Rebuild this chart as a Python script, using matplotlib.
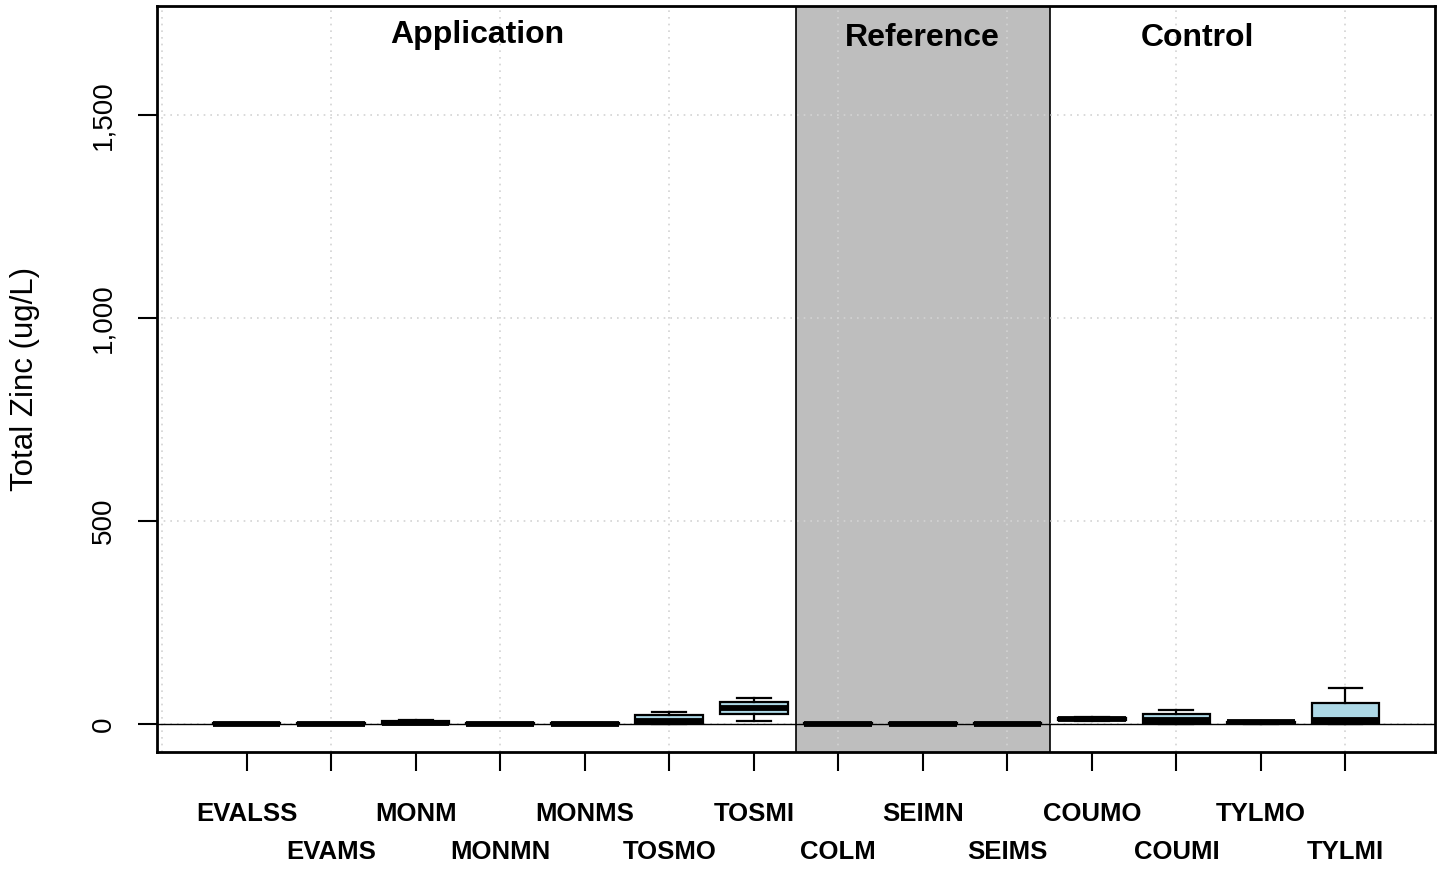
import matplotlib
matplotlib.use("Agg")
import matplotlib.pyplot as plt
from matplotlib.transforms import blended_transform_factory
from matplotlib.ticker import FuncFormatter

plt.rcParams['font.family'] = ['Liberation Sans', 'DejaVu Sans']

# Sampling sites, in plotting order
sites = ['EVALSS', 'EVAMS', 'MONM', 'MONMN', 'MONMS', 'TOSMO', 'TOSMI',
         'COLM', 'SEIMN', 'SEIMS', 'COUMO', 'COUMI', 'TYLMO', 'TYLMI']

# Five-number summaries of total zinc (ug/L) per site
whisker_low = [0, 0, 0, 0, 0, 0, 8, 0, 0, 0, 7, 1, 1, 0]
q1 = [0, 0, 1, 0, 0, 2.5, 24, 0, 0, 0, 9, 3, 2, 3]
median = [1, 1, 3, 1, 1, 8.5, 39, 1, 1, 1, 12, 9, 4, 10]
q3 = [2, 2, 7, 2, 2, 22, 53, 2, 2, 2, 15, 25, 6, 51]
whisker_high = [3, 3, 9, 3, 3, 30, 64, 3, 3, 3, 17, 35, 8, 89]

# Site groups: (label, label x position, label height in axes fraction)
groups = ['Application', 'Reference', 'Control']
group_label_x = [3.73, 9.0, 12.25]
group_label_y = [0.961, 0.9575, 0.9575]
reference_span = (7.5, 10.5)

y_ticks = [0, 500, 1000, 1500]

fig = plt.figure(figsize=(14.46, 8.69), dpi=100)
ax = fig.add_axes([0.1086, 0.1346, 0.8838, 0.8585])

positions = list(range(1, len(sites) + 1))
ax.set_xlim(-0.06, len(sites) + 1.06)
ax.set_ylim(-69, 1768)

# Shaded reference block with its borders
ax.axvspan(*reference_span, color='#BEBEBE', zorder=0, lw=0)
for xv in reference_span:
    ax.axvline(xv, color='black', lw=1.2, zorder=1)

# Dotted grid
for gx in range(0, len(sites) + 1, 2):
    ax.axvline(gx, color='#D3D3D3', lw=1.2, ls=(0, (1, 3)), zorder=1)
for gy in y_ticks:
    ax.axhline(gy, color='#D3D3D3', lw=1.2, ls=(0, (1, 3)), zorder=1)

ax.axhline(0, color='black', lw=1.0, zorder=2)

stats = []
for i, name in enumerate(sites):
    stats.append(dict(label=name, whislo=whisker_low[i], q1=q1[i],
                      med=median[i], q3=q3[i], whishi=whisker_high[i],
                      fliers=[]))

ax.bxp(stats, positions=positions, widths=0.8, capwidths=0.4,
       patch_artist=True, showfliers=False, manage_ticks=False,
       boxprops=dict(facecolor='#ADD8E6', edgecolor='black', linewidth=1.6),
       medianprops=dict(color='black', linewidth=4.2, solid_capstyle='butt'),
       whiskerprops=dict(color='black', linewidth=1.6),
       capprops=dict(color='black', linewidth=1.6),
       zorder=3)

# Axes styling
for sp in ax.spines.values():
    sp.set_linewidth(2.0)
    sp.set_zorder(4)

ax.set_xticks(positions)
ax.set_xticklabels([])
ax.tick_params(axis='x', length=14, width=1.5, direction='out')

ax.set_yticks(y_ticks)
ax.yaxis.set_major_formatter(FuncFormatter(lambda v, p: f"{int(v):,}"))
ax.tick_params(axis='y', length=14, width=1.5, direction='out', pad=15,
               labelsize=20)
for lab in ax.get_yticklabels():
    lab.set_rotation(90)
    lab.set_va('center')

ax.set_ylabel('Total Zinc (ug/L)', fontsize=22.5)
ax.yaxis.set_label_coords(-0.0915, 0.5)

# Staggered site labels below the axis
trans = blended_transform_factory(ax.transData, ax.transAxes)
for i, name in enumerate(sites):
    y = -0.0831 if i % 2 == 0 else -0.134
    ax.text(positions[i], y, name, transform=trans, ha='center', va='center',
            fontsize=18.5, fontweight='bold')

# Group headers
for label, gx, gy in zip(groups, group_label_x, group_label_y):
    ax.text(gx, gy, label, transform=trans, ha='center', va='center',
            fontsize=23, fontweight='bold')

fig.savefig('out.png', dpi=100)
